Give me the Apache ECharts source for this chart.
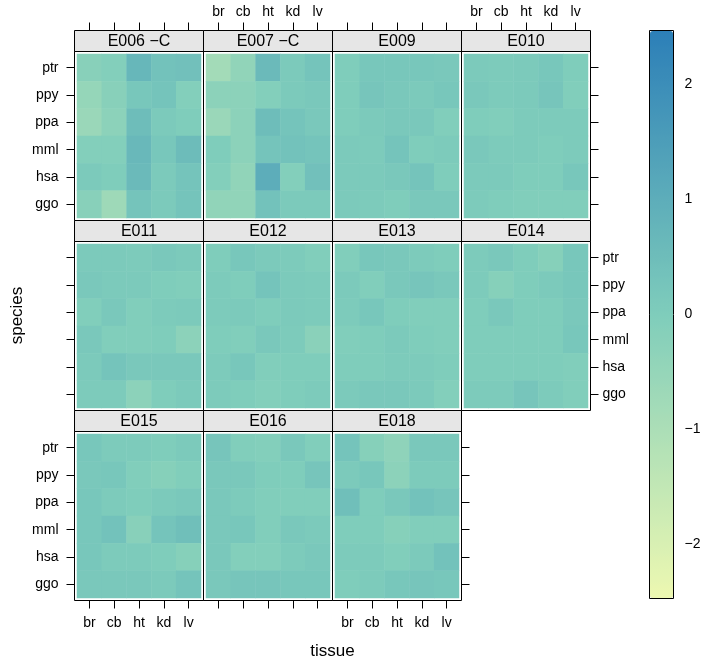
<!DOCTYPE html>
<html><head><meta charset="utf-8">
<script src="https://cdn.jsdelivr.net/npm/echarts@6/dist/echarts.min.js"></script>
<style>html,body{margin:0;padding:0;background:#fff}#c{width:704px;height:661px}</style>
</head><body><div id="c"></div><script>
// ---- data ----
const tissues = ['br', 'cb', 'ht', 'kd', 'lv'];
const speciesTopDown = ['ptr', 'ppy', 'ppa', 'mml', 'hsa', 'ggo'];
const panelNames = ['E006 \u2212C', 'E007 \u2212C', 'E009', 'E010', 'E011', 'E012', 'E013', 'E014', 'E015', 'E016', 'E018'];
// rows: ptr, ppy, ppa, mml, hsa, ggo ; columns: br, cb, ht, kd, lv
const E006C = [[-0.2,-0.1,0.7,0.35,0.4],[-0.5,-0.2,0.2,0.3,-0.1],[-0.6,-0.3,0.5,0.1,0.0],[-0.1,-0.1,0.65,0.2,0.55],[0.1,0.0,0.6,0.1,0.3],[-0.2,-0.7,0.3,0.1,0.3]];
const E007C = [[-0.8,-0.4,0.6,0.1,0.3],[-0.3,-0.3,-0.1,0.1,0.15],[-0.6,-0.3,0.5,0.3,0.15],[0.0,-0.3,0.3,0.35,0.3],[-0.1,-0.4,1.0,-0.1,0.4],[-0.4,-0.4,0.35,0.1,0.1]];
const E009 = [[0.0,0.2,0.2,0.2,0.15],[0.0,0.25,0.15,0.1,0.2],[0.0,0.1,0.15,0.15,-0.05],[0.1,0.05,0.3,0.0,0.05],[0.1,0.1,0.15,0.3,0.0],[0.1,0.05,0.0,0.15,0.15]];
const E010 = [[0.1,0.05,0.1,0.2,0.0],[0.15,0.05,0.1,0.25,-0.05],[0.0,-0.05,0.05,0.05,0.05],[0.15,0.05,0.05,0.0,0.05],[0.1,0.1,0.0,0.0,0.2],[0.05,0.0,-0.05,-0.05,-0.05]];
const E011 = [[0.1,0.1,0.05,0.15,0.1],[0.15,0.1,0.1,0.0,-0.05],[-0.05,0.15,-0.05,0.05,0.1],[0.15,-0.05,-0.05,0.0,-0.3],[0.1,0.3,0.15,0.15,0.15],[0.05,0.05,-0.3,0.0,0.1]];
const E012 = [[0.0,0.2,0.1,0.05,-0.05],[0.05,0.0,0.3,0.1,0.05],[0.05,0.1,0.0,0.1,0.05],[0.0,-0.05,0.15,0.05,-0.25],[0.05,0.2,-0.05,0.0,0.0],[0.05,0.0,-0.1,0.0,0.05]];
const E013 = [[-0.05,0.2,0.15,0.05,0.0],[0.1,-0.05,0.15,0.25,0.15],[0.05,0.2,0.0,-0.05,-0.05],[-0.05,0.0,0.1,0.0,-0.05],[0.0,0.0,0.05,0.05,0.0],[0.1,0.15,0.15,0.1,-0.1]];
const E014 = [[0.05,0.15,0.0,-0.15,0.2],[0.05,-0.15,0.0,0.1,0.2],[0.0,0.15,0.0,0.0,0.15],[0.0,0.0,0.0,0.0,0.2],[0.0,0.0,0.0,0.0,-0.05],[0.05,0.05,0.25,0.05,-0.05]];
const E015 = [[0.2,0.05,0.05,0.0,0.1],[0.15,0.2,-0.05,-0.15,-0.05],[0.2,0.05,0.0,0.1,0.15],[0.2,0.35,-0.2,0.3,0.45],[0.2,0.05,0.05,0.0,-0.15],[0.15,0.15,0.15,0.1,0.3]];
const E016 = [[0.25,-0.05,-0.1,0.15,-0.05],[0.15,0.15,0.0,0.0,0.25],[0.15,0.05,-0.05,-0.05,-0.05],[0.15,0.2,-0.05,0.15,0.1],[0.15,-0.1,-0.1,0.05,0.15],[0.15,0.25,0.25,0.2,0.2]];
const E018 = [[0.3,-0.15,-0.35,0.15,0.15],[0.1,0.2,-0.3,0.05,0.05],[0.45,0.0,0.15,0.35,0.25],[0.0,0.0,-0.15,-0.05,-0.05],[0.05,0.05,-0.05,0.1,0.35],[0.0,0.05,0.2,0.25,0.2]];
const panelValues = [E006C, E007C, E009, E010, E011, E012, E013, E014, E015, E016, E018];
const colorbarTicks = [-2, -1, 0, 1, 2];
const colorRange = [-2.47, 2.47];

// ---- layout ----
const FONT = '"Liberation Sans", Arial, Helvetica, sans-serif';
const COLX = [74.5, 203.5, 332.5, 461.5], PW = 129;
const STRIP_TOP = [30.5, 220.5, 410.5], SH = 21, PH = 169;
const GAP = 2.5;
const speciesBottomUp = speciesTopDown.slice().reverse();

const grids = [], xAxes = [], yAxes = [], series = [], graphics = [];
const tickStyle = { color: '#000', width: 1 };
const lab = (show, margin) => ({ show, margin, interval: 0, color: '#000', fontSize: 14, fontFamily: FONT });

panelValues.forEach((vals, p) => {
  const r = Math.floor(p / 4), c = p % 4;
  const bx = COLX[c], sy = STRIP_TOP[r], by = sy + SH;
  grids.push({ left: bx + GAP, top: by + GAP, width: PW - 2 * GAP, height: PH - 2 * GAP, show: false });
  const lastInRow = (c === 3) || (p === panelValues.length - 1);
  const topT = r === 0, topL = r === 0 && c % 2 === 1;
  const botT = r === 2, botL = r === 2 && c % 2 === 0;
  const leftT = c === 0, leftL = c === 0 && r !== 1;
  const rightT = lastInRow, rightL = lastInRow && r === 1;
  xAxes.push({ gridIndex: p, type: 'category', data: tissues, position: 'bottom', offset: GAP, show: botT,
    axisLine: { show: false }, splitLine: { show: false },
    axisTick: { show: botT, alignWithLabel: true, interval: 0, length: 8, lineStyle: tickStyle },
    axisLabel: lab(botL, 16) });
  xAxes.push({ gridIndex: p, type: 'category', data: tissues, position: 'top', offset: GAP + SH, show: topT,
    axisLine: { show: false }, splitLine: { show: false },
    axisTick: { show: topT, alignWithLabel: true, interval: 0, length: 8, lineStyle: tickStyle },
    axisLabel: lab(topL, 11) });
  yAxes.push({ gridIndex: p, type: 'category', data: speciesBottomUp, position: 'left', offset: GAP, show: leftT,
    axisLine: { show: false }, splitLine: { show: false },
    axisTick: { show: leftT, alignWithLabel: true, interval: 0, length: 8, lineStyle: tickStyle },
    axisLabel: lab(leftL, 16) });
  yAxes.push({ gridIndex: p, type: 'category', data: speciesBottomUp, position: 'right', offset: GAP, show: rightT,
    axisLine: { show: false }, splitLine: { show: false },
    axisTick: { show: rightT, alignWithLabel: true, interval: 0, length: 8, lineStyle: tickStyle },
    axisLabel: lab(rightL, 12) });
  const data = [];
  vals.forEach((row, ri) => row.forEach((v, ci) => data.push([ci, speciesTopDown.length - 1 - ri, v])));
  series.push({ type: 'heatmap', xAxisIndex: 2 * p, yAxisIndex: 2 * p, data, itemStyle: { borderWidth: 0 },
    emphasis: { disabled: true }, label: { show: false }, progressive: 0, silent: true });
  // strip
  graphics.push({ type: 'rect', z: 50, shape: { x: bx, y: sy, width: PW, height: SH },
    style: { fill: '#e6e6e6', stroke: '#000', lineWidth: 1 } });
  graphics.push({ type: 'text', z: 51, x: bx + PW / 2, y: sy + SH / 2 + 0.5,
    style: { text: panelNames[p], fill: '#000', font: '16px ' + FONT, textAlign: 'center', textVerticalAlign: 'middle' } });
  // panel border
  graphics.push({ type: 'rect', z: 50, shape: { x: bx, y: by, width: PW, height: PH },
    style: { fill: null, stroke: '#000', lineWidth: 1 } });
});

// colour key
const CB = { left: 649.5, top: 30.5, width: 24, height: 568 };
const cbIdx = grids.length;
grids.push({ left: CB.left, top: CB.top, width: CB.width, height: CB.height, show: false });
xAxes.push({ gridIndex: cbIdx, type: 'value', show: false, min: 0, max: 1 });
yAxes.push({ gridIndex: cbIdx, type: 'value', position: 'right', min: colorRange[0], max: colorRange[1],
  axisLine: { show: false }, splitLine: { show: false },
  axisTick: { show: true, length: 7, customValues: colorbarTicks, lineStyle: tickStyle },
  axisLabel: { show: true, margin: 11, customValues: colorbarTicks, color: '#000', fontSize: 14, fontFamily: FONT,
    formatter: v => (v < 0 ? '\u2212' + Math.abs(v) : String(v)) } });
graphics.push({ type: 'rect', z: 60, shape: { x: CB.left, y: CB.top, width: CB.width, height: CB.height },
  style: { fill: null, stroke: '#000', lineWidth: 1 } });

// axis titles
graphics.push({ type: 'text', z: 60, x: 17, y: 315.5, rotation: Math.PI / 2,
  style: { text: 'species', fill: '#000', font: '17px ' + FONT, textAlign: 'center', textVerticalAlign: 'middle' } });
graphics.push({ type: 'text', z: 60, x: 332.5, y: 651,
  style: { text: 'tissue', fill: '#000', font: '17px ' + FONT, textAlign: 'center', textVerticalAlign: 'middle' } });

const chart = echarts.init(document.getElementById('c'), null, { renderer: 'canvas' });
chart.setOption({
  animation: false,
  backgroundColor: '#fff',
  grid: grids, xAxis: xAxes, yAxis: yAxes, series,
  visualMap: {
    type: 'continuous', min: colorRange[0], max: colorRange[1], calculable: false, realtime: false,
    seriesIndex: series.map((_, i) => i), orient: 'vertical',
    left: CB.left + 0.5, top: CB.top + 0.5, itemWidth: CB.width - 1, itemHeight: CB.height - 1,
    padding: 0, text: null, showLabel: false, hoverLink: false,
    inRange: { color: ['#edf8b1', '#7fcdbb', '#2c7fb8'] }
  },
  graphic: graphics
});
</script></body></html>
